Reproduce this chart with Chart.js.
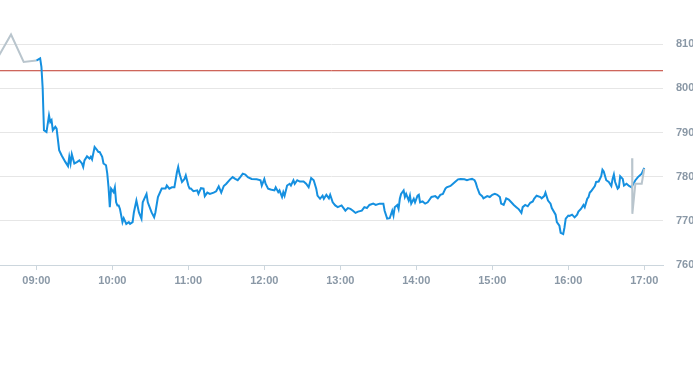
<!DOCTYPE html>
<html>
<head>
<meta charset="utf-8">
<script src="https://cdn.jsdelivr.net/npm/chart.js@4"></script>
<style>
html,body{margin:0;padding:0;background:#fff;}
#wrap{width:693px;height:365px;}
</style>
</head>
<body>
<div id="wrap"><canvas id="c" width="693" height="365"></canvas></div>
<script>
// minutes since midnight
const blueTimes = [540,543,544,545,546,548,550,551,552,553,555,556,558,560,563,565,566,567,568,570,572,574,576,577,578,580,582,583,584,586,588,589,590,592,593,595,596,597,598,599,601,602,603,604,605,606,607,608,609,611,613,614,616,617,619,621,623,624,627,628,631,633,634,636,639,642,643,645,647,649,651,652,653,655,657,658,660,661,662,664,667,668,670,672,673,675,677,680,682,684,686,688,690,693,695,697,699,701,703,705,707,710,714,717,718,720,721,723,725,728,729,731,732,734,735,736,738,740,741,743,744,746,748,751,753,755,757,759,761,762,764,766,767,769,771,772,774,776,778,781,783,784,786,788,790,792,794,797,799,801,803,806,808,811,814,815,817,819,821,822,823,825,826,827,828,830,831,832,834,835,836,838,839,841,842,843,845,847,849,850,852,855,857,859,861,863,864,867,869,871,873,875,878,880,882,884,886,887,888,890,892,893,896,898,900,902,904,906,907,909,911,913,915,917,919,921,923,924,926,928,930,932,933,935,938,939,941,942,944,946,947,950,951,953,954,956,957,958,960,961,963,965,967,968,970,972,973,975,976,977,978,981,982,984,986,987,988,990,992,994,995,996,997,999,1000,1001,1003,1004,1006,1008,1010,1011,1013,1015,1018,1020];
const bluePrices = [806.3,806.8,804.9,800,790.5,790.1,793.9,792.4,792.8,790.5,791.3,790.9,786,784.8,783.3,782.4,784.5,783,785.1,783,783.3,783.7,783,782.2,783.7,784.6,784.1,784.5,783.9,786.7,786,785.6,785.6,784.5,783,782.6,780.7,777.6,773.1,777.3,776.5,777.6,774.2,773.5,773.5,772.7,771.2,769.7,770.6,769.3,769.7,769.3,769.7,771.9,774.6,771.9,770.5,774.2,776.1,774.2,771.9,770.8,771.9,775.4,777.3,777.3,778,777.3,777.6,777.6,781,782.2,780.7,778.8,779.5,780.3,778,777.3,777.3,776.7,776.9,776.1,777.4,777.3,775.6,776.4,776.1,776.4,776.7,777.8,776.4,777.9,778.4,779.4,779.9,779.5,779.2,779.9,780.7,780.5,779.9,779.5,779.4,779.2,778,779.5,778.4,777.3,777.1,776.9,777.6,776.5,776.9,775.4,776.5,775.7,778,778.4,778,779.2,778.4,779.2,778.9,778.9,778.4,777.6,779.7,779.2,777.3,775.7,775,775.7,775,775.9,775.1,775.9,774.2,773.5,773.1,773.5,772.7,772.3,772.9,772.7,772.3,771.8,772.1,772.3,773.1,772.9,773.6,773.9,773.6,773.9,773.9,772.3,770.5,770.6,772.3,771.2,773.1,773.6,772.7,775,776.1,776.9,775.4,776.1,774.6,775.7,773.9,775,774.2,775.7,775.9,774.2,774.4,773.9,774.2,774.6,775.4,775.6,775.1,775.9,776.1,777.3,777.6,777.9,778.4,778.9,779.4,779.5,779.4,779.2,779.4,779.5,779.2,778.6,777.6,776.1,775.6,775.1,775.6,775.4,775.9,776.1,775.9,775.4,773.9,773.6,775.1,774.8,774.2,773.6,773.1,772.6,771.8,773.1,773.6,773.3,774.1,774.4,775,775.7,775.4,775.1,775.6,776.4,774.6,773.9,772.9,771.4,769.7,768.9,767.3,767,768.5,770.5,771.2,771.1,771.4,770.8,771.4,772.1,772.7,773.6,773.1,775,775.4,776.4,776.7,777.9,778.8,778.9,780.1,781.6,781.2,779.2,778.8,777.9,779.5,780.5,778.8,777.3,777.6,780.1,779.5,778,778.4,777.9,777.6,778.2,779.2,779.9,780.7,782];

const preTimes = [510,520,530,540];
const prePrices = [807.2,812.2,806,806.3];
const postTimes = [1010.4,1010.6,1013,1018,1020];
const postPrices = [784.2,771.6,778.4,778.4,781.8];

const previousClose = 804;

const xTickLabels = ["09:00","10:00","11:00","12:00","13:00","14:00","15:00","16:00","17:00"];
const yTickValues = [760,770,780,790,800,810];

const xMin = 511.3, xMax = 1034.8;
const yMin = 760, yMax = 813;

function toMin(s){const [h,m]=s.split(':').map(Number);return h*60+m;}
function fmt(v){const h=Math.floor(v/60),m=Math.round(v%60);return String(h).padStart(2,'0')+':'+String(m).padStart(2,'0');}
function pts(ts,vs){return ts.map((t,i)=>({x:t,y:vs[i]}));}

const greyData = pts(preTimes,prePrices).concat([{x:(preTimes[preTimes.length-1]+postTimes[0])/2,y:null}], pts(postTimes,postPrices));
const tickFont = {family:'"Liberation Sans", Arial, sans-serif',size:11,weight:'bold'};

new Chart(document.getElementById('c'), {
  type: 'line',
  data: {
    datasets: [
      {data: greyData, borderColor:'#b9c5cd', borderWidth:2, pointRadius:0, tension:0, spanGaps:false},
      {data: pts(blueTimes,bluePrices), borderColor:'#1590e0', borderWidth:2, pointRadius:0, tension:0},
      {data: [{x:xMin,y:previousClose},{x:xMax,y:previousClose}], borderColor:'#c0392b', borderWidth:1, pointRadius:0, tension:0}
    ]
  },
  options: {
    responsive:false,
    animation:false,
    events:[],
    layout:{padding:{top:31,left:0,right:0,bottom:0}},
    plugins:{legend:{display:false},tooltip:{enabled:false}},
    scales:{
      x:{
        type:'linear', min:xMin, max:xMax,
        afterBuildTicks: s => { s.ticks = xTickLabels.map(l=>({value:toMin(l)})); },
        afterFit: s => { s.height = 100; },
        border:{display:true,color:'#ccd6dd',width:1},
        grid:{drawOnChartArea:false,drawTicks:true,tickLength:5,color:'#ccd6dd'},
        ticks:{color:'#8a98a6',padding:4,maxRotation:0,autoSkip:false,font:tickFont,callback:v=>fmt(v)}
      },
      y:{
        type:'linear', position:'right', min:yMin, max:yMax,
        afterBuildTicks: s => { s.ticks = yTickValues.map(v=>({value:v})); },
        afterFit: s => { s.width = 30; },
        border:{display:false},
        grid:{color:'#e6e6e6',drawTicks:false},
        ticks:{color:'#8a98a6',padding:13,font:tickFont}
      }
    }
  }
});
</script>
</body>
</html>
